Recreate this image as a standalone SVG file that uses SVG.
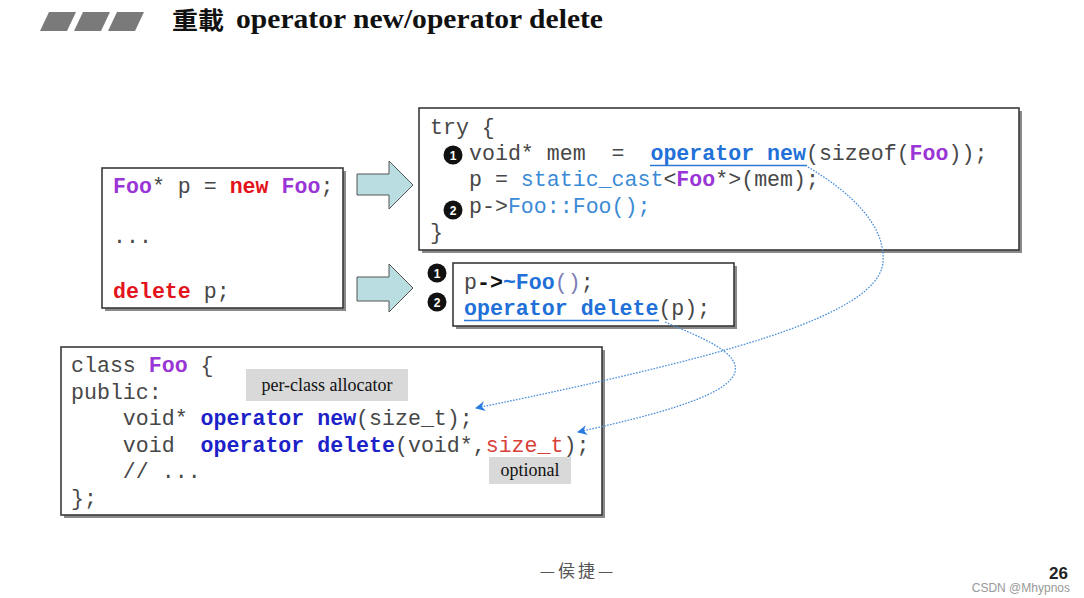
<svg xmlns="http://www.w3.org/2000/svg" width="1084" height="598" viewBox="0 0 1084 598">
<defs>
<style>
.box{fill:#fff;stroke:#3a3a3a;stroke-width:1.6}
.shd{fill:#8a8a8a}
.code{font-family:"Liberation Mono","Courier New",monospace;font-size:21.6px;fill:#474747;white-space:pre}
.pu{fill:#9a35d6;font-weight:bold}
.rd{fill:#e3141c;font-weight:bold}
.bb{fill:#2271d8;font-weight:bold}
.lb{fill:#3b8ad6}
.db{fill:#1c22c8;font-weight:bold}
.rn{fill:#d9403a}
.bk{fill:#111;font-weight:bold}
.pp{fill:#7c7cb6}
.ul{stroke:#2e78d6;stroke-width:1.5}
.fat{fill:#b9dde0;stroke:#555;stroke-width:1}
.badge{fill:#111}
.bn{font-family:"Liberation Sans",Arial,sans-serif;font-size:12px;font-weight:bold;fill:#fff;text-anchor:middle}
.lab{fill:#d9d9d9}
.labt{font-family:"Liberation Serif","Times New Roman",serif;font-size:18px;fill:#111;text-anchor:middle}
.conn{fill:none;stroke:#4b8fda;stroke-width:1.3;stroke-dasharray:1.6 1.4}
</style>
<marker id="ah" viewBox="0 0 10 10" refX="9" refY="5" markerWidth="10" markerHeight="10" markerUnits="userSpaceOnUse" orient="auto">
<path d="M0,0 L10,5 L0,10 L3,5 z" fill="#2a7be0"/>
</marker>
</defs>
<rect width="1084" height="598" fill="#fff"/>

<g id="title">
<polygon points="40,31 49,12 76,12 67,31" fill="#7a7a7a"/>
<polygon points="74,31 83,12 110,12 101,31" fill="#7a7a7a"/>
<polygon points="108,31 117,12 144,12 135,31" fill="#7a7a7a"/>
<text x="172" y="29" font-family="'Noto Sans CJK TC','Noto Sans CJK SC',sans-serif" font-size="24" font-weight="bold" fill="#111" textLength="52" lengthAdjust="spacingAndGlyphs">重載</text>
<text x="236" y="28" font-family="'Liberation Serif','Times New Roman',serif" font-size="27" font-weight="bold" fill="#111" textLength="367" lengthAdjust="spacingAndGlyphs">operator new/operator delete</text>
</g>

<g id="box-newfoo">
<rect class="shd" x="105" y="171" width="241" height="140"/>
<rect class="box" x="102" y="168" width="241" height="140"/>
<text class="code" x="113" y="193" xml:space="preserve"><tspan class="pu">Foo</tspan>* p = <tspan class="rd">new</tspan> <tspan class="pu">Foo</tspan>;</text>
<text class="code" x="113" y="243" xml:space="preserve">...</text>
<text class="code" x="113" y="298" xml:space="preserve"><tspan class="rd">delete</tspan> p;</text>
</g>

<g id="arrow-new">
<polygon class="fat" points="357,174 389,174 389,161 413,185 389,209 389,195 357,195"/>
</g>
<g id="arrow-delete">
<polygon class="fat" points="357,277 389,277 389,264 413,288 389,312 389,301 357,301"/>
</g>

<g id="box-try">
<rect class="shd" x="422" y="111" width="600" height="142"/>
<rect class="box" x="419" y="108" width="600" height="142"/>
<text class="code" x="430" y="134" xml:space="preserve">try {</text>
<circle class="badge" cx="453" cy="155" r="9.5"/>
<text class="bn" x="453" y="159.5">1</text>
<text class="code" x="469" y="160" xml:space="preserve">void* mem  =  <tspan class="bb">operator new</tspan>(sizeof(<tspan class="pu">Foo</tspan>));</text>
<line class="ul" x1="650" y1="165.5" x2="807" y2="165.5"/>
<text class="code" x="469" y="186" xml:space="preserve">p = <tspan class="lb">static_cast</tspan>&lt;<tspan class="pu">Foo</tspan>*&gt;(mem);</text>
<circle class="badge" cx="453" cy="210" r="9.5"/>
<text class="bn" x="453" y="214.5">2</text>
<text class="code" x="469" y="213" xml:space="preserve">p-&gt;<tspan class="lb">Foo::Foo();</tspan></text>
<text class="code" x="430" y="239" xml:space="preserve">}</text>
</g>

<g id="box-delete">
<circle class="badge" cx="437" cy="273" r="9.5"/>
<text class="bn" x="437" y="277.5">1</text>
<circle class="badge" cx="437" cy="302" r="9.5"/>
<text class="bn" x="437" y="306.5">2</text>
<rect class="shd" x="456" y="266" width="281" height="63"/>
<rect class="box" x="453" y="263" width="281" height="63"/>
<text class="code" x="464" y="289" xml:space="preserve">p<tspan class="bk">-&gt;</tspan><tspan class="bb">~Foo</tspan><tspan class="pp">()</tspan>;</text>
<text class="code" x="464" y="315" xml:space="preserve"><tspan class="bb">operator delete</tspan>(p);</text>
<line class="ul" x1="464" y1="320.5" x2="659" y2="320.5"/>
</g>

<g id="box-class">
<rect class="shd" x="64" y="350" width="541" height="168"/>
<rect class="box" x="61" y="347" width="541" height="168"/>
<rect class="lab" x="246" y="369" width="162" height="32"/>
<text class="labt" x="327" y="391">per-class allocator</text>
<rect class="lab" x="489" y="457" width="82" height="27"/>
<text class="labt" x="530" y="476">optional</text>
<text class="code" x="71" y="372" xml:space="preserve">class <tspan class="pu">Foo</tspan> {</text>
<text class="code" x="71" y="398.5" xml:space="preserve">public:</text>
<text class="code" x="71" y="425" xml:space="preserve">    void* <tspan class="db">operator new</tspan>(size_t);</text>
<text class="code" x="71" y="451.5" xml:space="preserve">    void  <tspan class="db">operator delete</tspan>(void*,<tspan class="rn">size_t</tspan>);</text>
<text class="code" x="71" y="478" xml:space="preserve">    // ...</text>
<text class="code" x="71" y="504.5" xml:space="preserve">};</text>
</g>

<g id="connectors">
<path class="conn" marker-end="url(#ah)" d="M 808 167 C 850 192, 886 225, 883 262 C 880 300, 800 330, 700 357 C 620 378, 540 395, 476 408"/>
<path class="conn" marker-end="url(#ah)" d="M 665 322 C 700 337, 740 352, 735 372 C 728 398, 640 418, 578 432"/>
</g>

<g id="footer">
<text x="578" y="577" font-family="'Noto Sans CJK TC','Noto Sans CJK SC',sans-serif" font-size="17" fill="#555" text-anchor="middle" letter-spacing="3">—侯捷—</text>
<text x="1068" y="579" font-family="'Liberation Sans',Arial,sans-serif" font-size="17" font-weight="bold" fill="#222" text-anchor="end">26</text>
<text x="1070" y="592" font-family="'Liberation Sans',Arial,sans-serif" font-size="12" fill="#999" text-anchor="end">CSDN @Mhypnos</text>
</g>
</svg>
